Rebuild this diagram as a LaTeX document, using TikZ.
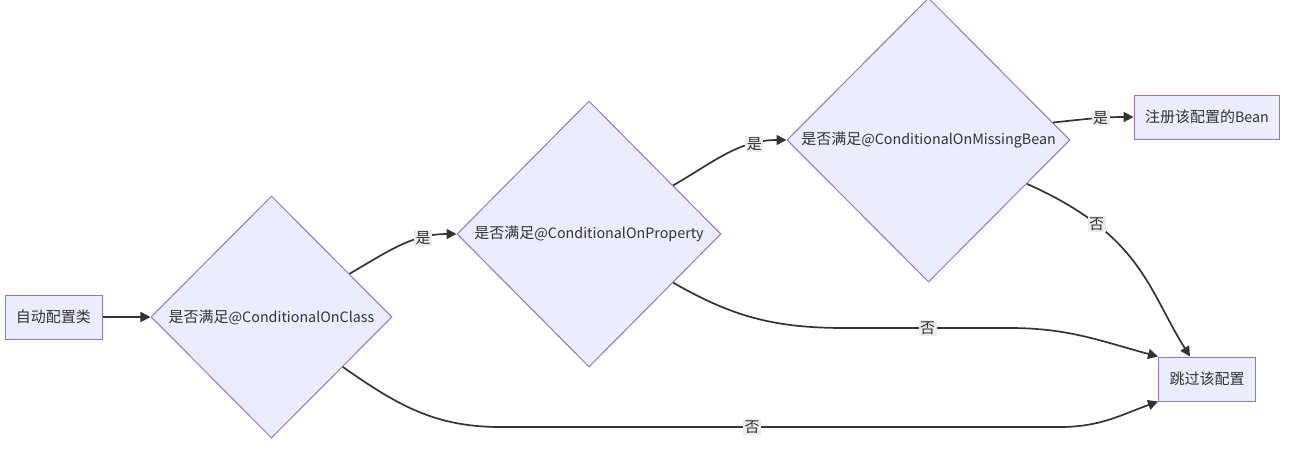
\documentclass[tikz,border=0pt]{standalone}
\usepackage{fontspec}
\setmainfont{Noto Sans CJK SC}
\usepackage{xcolor}
\usetikzlibrary{shapes.geometric, arrows.meta}
\definecolor{nodefill}{HTML}{ECECFF}
\definecolor{nodeline}{HTML}{9370DB}
\definecolor{edgeline}{HTML}{333333}
\definecolor{labelbg}{HTML}{ECECEC}
\definecolor{textcol}{HTML}{333333}
\newcommand{\eng}[1]{{\fontsize{14.3}{18}\selectfont #1}}

\begin{document}
\begin{tikzpicture}[x=1pt, y=1pt, font=\fontsize{15}{18}\selectfont, text=textcol,
    box/.style={draw=nodeline, fill=nodefill, line width=1pt, minimum height=44pt, inner xsep=11pt},
    decision/.style={diamond, draw=nodeline, fill=nodefill, line width=1pt, inner sep=0pt, aspect=1},
    flow/.style={draw=edgeline, line width=1.7pt, -{Triangle[length=10pt,width=10pt]}},
    lbl/.style={fill=labelbg, inner sep=1.5pt, text=textcol}]
        \useasboundingbox (0,0) rectangle (1290,-456);
        % Noeuds
        \node[box] (auto) at (53.5,-317) {自动配置类};
        \node[decision, minimum width=241pt, minimum height=242pt] (onclass) at (271.5,-317) {是否满足\eng{@ConditionalOnClass}};
        \node[decision, minimum width=264pt, minimum height=266pt] (onprop) at (589,-234) {是否满足\eng{@ConditionalOnProperty}};
        \node[decision, minimum width=283pt, minimum height=284pt] (onmissing) at (928.5,-140) {是否满足\eng{@ConditionalOnMissingBean}};
        \node[box] (register) at (1207,-117) {注册该配置的\eng{Bean}};
        \node[box] (skip) at (1207,-379) {跳过该配置};
        % Points de passage
        \coordinate (proplow1) at (845,-328);
        \coordinate (proplow2) at (1010,-328);
        \coordinate (classlow1) at (500,-427);
        \coordinate (classlow2) at (1060,-427);
        % Fleches "oui"
        \draw[flow] (auto) -- (onclass);
        \draw[flow] (onclass.29) to[out=30, in=180] node[lbl, pos=0.72] {是} (onprop.west);
        \draw[flow] (onprop.30) to[out=30, in=180] node[lbl, pos=0.75] {是} (onmissing.west);
        \draw[flow] (onmissing.8) to[out=6, in=180] node[lbl, pos=0.6] {是} (register.west);
        % Fleches "non"
        \draw[flow] (onmissing.-24) to[out=-24, in=122, out distance=125pt, in distance=80pt] node[lbl, pos=0.26] {否} ([xshift=-17pt]skip.north);
        \draw[flow] (onprop.-30) to[out=-30, in=180] (proplow1) -- node[lbl, pos=0.5] {否} (proplow2) to[out=0, in=165] (skip.north west);
        \draw[flow] (onclass.-35) to[out=-35, in=180] (classlow1) -- node[lbl, pos=0.45] {否} (classlow2) to[out=0, in=200] (skip.south west);
    \end{tikzpicture}
\end{document}
